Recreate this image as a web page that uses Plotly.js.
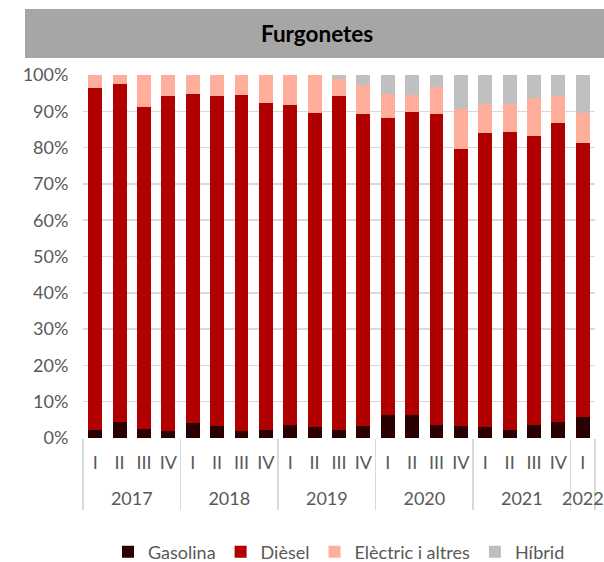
<!DOCTYPE html>
<html>
<head>
<meta charset="utf-8">
<script src="https://cdn.plot.ly/plotly-3.0.1.min.js"></script>
<style>html,body{margin:0;padding:0;background:#fff;}#chart{width:604px;height:562px;}</style>
</head>
<body>
<div id="chart"></div>
<script>
const years = ['2017','2017','2017','2017','2018','2018','2018','2018','2019','2019','2019','2019','2020','2020','2020','2020','2021','2021','2021','2021','2022'];
const quarters = ['I','II','III','IV','I','II','III','IV','I','II','III','IV','I','II','III','IV','I','II','III','IV','I'];
const gasolina = [2.1,4.3,2.5,1.9,4.0,3.2,1.9,2.1,3.6,2.9,2.1,3.2,6.4,6.4,3.6,3.2,2.9,2.1,3.6,4.3,5.7];
const diesel   = [94.4,93.3,88.8,92.3,90.8,91.0,92.6,90.2,88.1,86.7,92.1,86.0,81.7,83.5,85.6,76.4,81.0,82.2,79.6,82.5,75.7];
const electric = [3.5,2.4,8.7,5.8,5.2,5.8,5.5,7.7,8.3,10.4,4.8,8.0,6.7,4.5,7.6,10.9,8.1,7.7,10.6,7.3,8.1];
const hibrid   = [0,0,0,0,0,0,0,0,0,0,1.0,2.8,5.2,5.6,3.2,9.5,8.0,8.0,6.2,5.9,10.5];
const seriesNames = ['Gasolina','Dièsel','Elèctric i altres','Híbrid'];
const seriesVals = [gasolina, diesel, electric, hibrid];
const colors = ['#2a0000','#b00000','#ffae9c','#bfbfbf'];

// extra blank line under each quarter label only adds vertical room before the year row
const quarterLabels = quarters.map(q => q + '<br><span style="font-size:23px">\u00a0</span>');

const traces = seriesVals.map((v,i)=>({
  type:'bar', name:seriesNames[i], x:[years,quarterLabels], y:v,
  marker:{color:colors[i], line:{width:0}}, hoverinfo:'skip'
}));

const font = {family:'Lato, "Open Sans", sans-serif', color:'#595959', size:18};
const layout = {
  width:604, height:562,
  margin:{l:83, r:9, t:75, b:124, autoexpand:false},
  barmode:'stack', bargap:0.43,
  paper_bgcolor:'#fff', plot_bgcolor:'#fff',
  font:font,
  title:{text:'<b>Furgonetes</b>', font:{family:'Lato, "Open Sans", sans-serif', size:22.5, color:'#000'},
    x:0.525, xanchor:'center', xref:'container', y:1-34/562, yanchor:'middle', yref:'container'},
  shapes:[{type:'rect', xref:'paper', yref:'paper', x0:(25-83)/512, x1:1.03, y0:(438-58)/363, y1:(438-9)/363,
    fillcolor:'#a6a6a6', line:{width:0}, layer:'below'}],
  xaxis:{type:'multicategory', showgrid:false, zeroline:false, showline:false, automargin:false, tickangle:0,
    showdividers:true, dividercolor:'#d9d9d9', dividerwidth:1.5, tickfont:font, ticks:'', ticklabelstandoff:12},
  yaxis:{range:[0,100], dtick:10, ticksuffix:'%', showgrid:true, gridcolor:'#d9d9d9', gridwidth:1.5, automargin:false,
    zeroline:false, showline:false, ticks:'outside', ticklen:10, tickcolor:'rgba(0,0,0,0)', tickfont:font, fixedrange:true},
  showlegend:true,
  legend:{orientation:'h', x:0.5, xanchor:'center', xref:'paper', y:(562-552)/562, yanchor:'middle', yref:'container', font:font,
    traceorder:'normal', itemwidth:30, bgcolor:'rgba(0,0,0,0)'}
};
Plotly.newPlot('chart', traces, layout, {displayModeBar:false, staticPlot:true});
</script>
</body>
</html>
